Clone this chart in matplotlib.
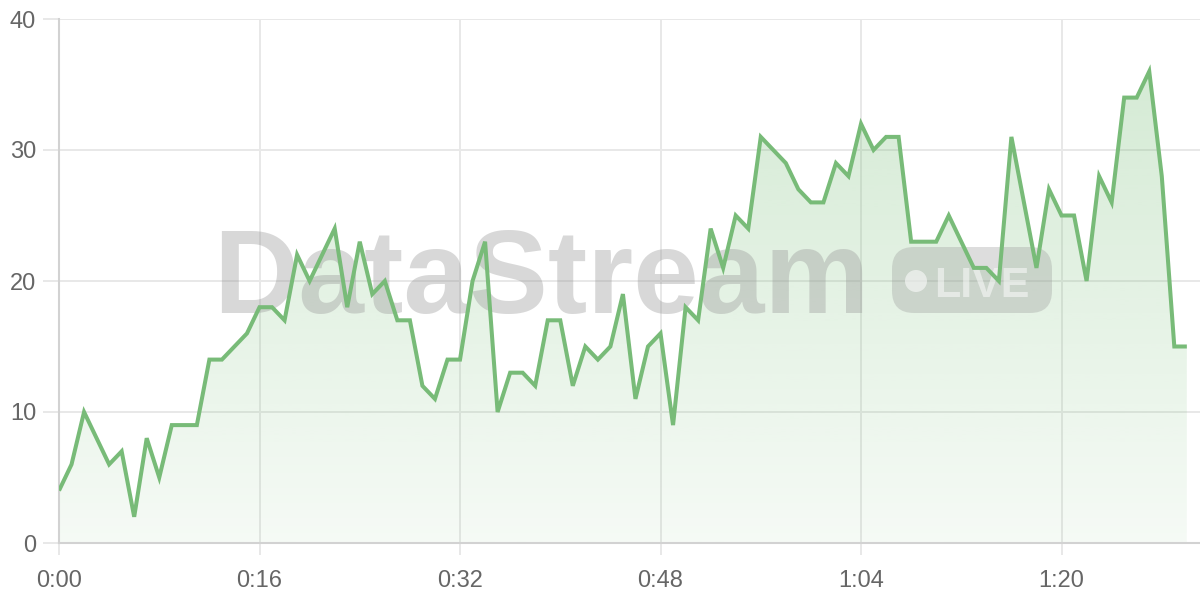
import numpy as np
import matplotlib
matplotlib.use("Agg")
from matplotlib import pyplot as plt
from matplotlib import transforms as mtransforms
from matplotlib.patches import FancyBboxPatch, Circle, Polygon

# one sample per second, 0:00 .. 1:30
seconds = list(range(91))
values = [4, 6, 10, 8, 6, 7, 2, 8, 5, 9,
          9, 9, 14, 14, 15, 16, 18, 18, 17, 22,
          20, 22, 24, 18, 23, 19, 20, 17, 17, 12,
          11, 14, 14, 20, 23, 10, 13, 13, 12, 17,
          17, 12, 15, 14, 15, 19, 11, 15, 16, 9,
          18, 17, 24, 21, 25, 24, 31, 30, 29, 27,
          26, 26, 29, 28, 32, 30, 31, 31, 23, 23,
          23, 25, 23, 21, 21, 20, 31, 26, 21, 27,
          25, 25, 20, 28, 26, 34, 34, 36, 28, 15,
          15]
tick_seconds = [0, 16, 32, 48, 64, 80]
tick_labels = ["0:00", "0:16", "0:32", "0:48", "1:04", "1:20"]
y_ticks = [0, 10, 20, 30, 40]

W, H = 1200, 600
line_color = "#78bb78"
grid_color = "#e8e8e8"
axis_color = "#d2d2d2"
label_color = "#666666"

plt.rcParams["font.family"] = ["Liberation Sans", "DejaVu Sans"]

fig = plt.figure(figsize=(W / 100, H / 100), dpi=100)
ax = fig.add_axes([59 / W, (H - 543) / H, (W - 59) / W, (543 - 19) / H])

x = np.array(seconds, dtype=float)
y = np.array(values, dtype=float)

# gradient area under the line
verts = np.column_stack([np.r_[x, x[-1], x[0]], np.r_[y, 0, 0]])
area = Polygon(verts, closed=True, facecolor="none", edgecolor="none")
ax.add_patch(area)
grad = np.zeros((256, 1, 4))
grad[:, 0, 0] = 120 / 255
grad[:, 0, 1] = 190 / 255
grad[:, 0, 2] = 120 / 255
grad[:, 0, 3] = np.linspace(0.07, 0.34, 256)
im = ax.imshow(grad, extent=[0, x[-1], 0, 40], origin="lower",
               aspect="auto", zorder=1, interpolation="bilinear")
im.set_clip_path(area)

ax.plot(x, y, color=line_color, lw=2.9, solid_joinstyle="miter",
        solid_capstyle="butt", zorder=4)

ax.set_xlim(0, 91.05)
ax.set_ylim(0, 40)
ax.set_xticks(tick_seconds)
ax.set_xticklabels(tick_labels)
ax.set_yticks(y_ticks)

ax.grid(True, color=grid_color, lw=1.4, zorder=0)
ax.set_axisbelow(True)
for side in ["top", "right"]:
    ax.spines[side].set_visible(False)
for side in ["left", "bottom"]:
    ax.spines[side].set_color(axis_color)
    ax.spines[side].set_linewidth(1.5)
ax.tick_params(axis="y", length=11.5, width=1.4, color=grid_color,
               pad=5, labelsize=17, labelcolor=label_color)
ax.tick_params(axis="x", length=8.6, width=1.4, color=grid_color,
               pad=11, labelsize=17, labelcolor=label_color)

# watermark, between the area fill and the line (pixel coordinates)
ident = mtransforms.IdentityTransform()
ax.text(541, H - 313, "DataStream", transform=ident, fontsize=85,
        fontweight="bold", ha="center", va="baseline",
        color="#999999", alpha=0.38, zorder=3, clip_on=False)
pill = FancyBboxPatch((892, H - 313), 160, 66,
                      boxstyle="round,pad=0,rounding_size=22",
                      transform=ident, facecolor="#999999", alpha=0.33,
                      edgecolor="none", zorder=3, clip_on=False)
ax.add_artist(pill)
dot = Circle((916, H - 281), 11, transform=ident, facecolor="white",
             alpha=0.55, edgecolor="none", zorder=3, clip_on=False)
ax.add_artist(dot)
ax.text(982, H - 297, "LIVE", transform=ident, fontsize=31,
        fontweight="bold", ha="center", va="baseline", color="white",
        alpha=0.5, zorder=3, clip_on=False)

fig.savefig("out.png", dpi=100)
